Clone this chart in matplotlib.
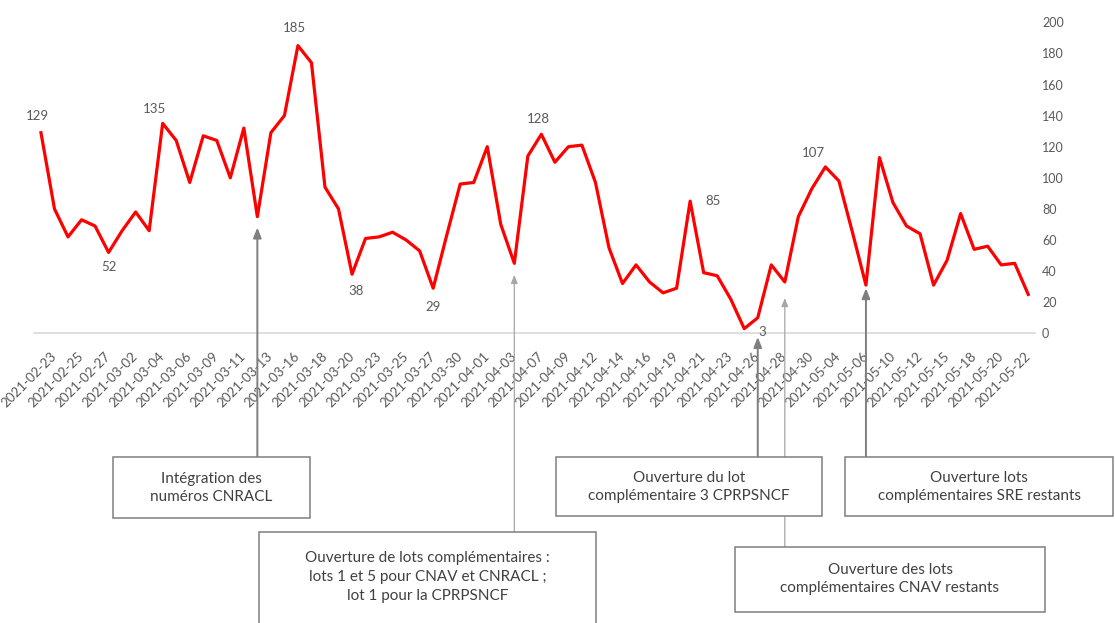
import matplotlib.pyplot as plt
from matplotlib.patches import Rectangle

plt.rcParams['font.family'] = ['Lato', 'DejaVu Sans']

# daily counts, working days from 2021-02-22 to 2021-05-22
values = [129, 80, 62, 73, 69, 52, 66, 78, 66, 135,
          124, 97, 127, 124, 100, 132, 75, 129, 140, 185,
          174, 94, 80, 38, 61, 62, 65, 60, 53, 29,
          63, 96, 97, 120, 70, 45, 114, 128, 110, 120,
          121, 97, 55, 32, 44, 33, 26, 29, 85, 39,
          37, 22, 3, 10, 44, 33, 75, 93, 107, 98,
          65, 31, 113, 84, 69, 64, 31, 47, 77, 54,
          56, 44, 45, 25]

tick_dates = ['2021-02-23', '2021-02-25', '2021-02-27', '2021-03-02', '2021-03-04',
              '2021-03-06', '2021-03-09', '2021-03-11', '2021-03-13', '2021-03-16',
              '2021-03-18', '2021-03-20', '2021-03-23', '2021-03-25', '2021-03-27',
              '2021-03-30', '2021-04-01', '2021-04-03', '2021-04-07', '2021-04-09',
              '2021-04-12', '2021-04-14', '2021-04-16', '2021-04-19', '2021-04-21',
              '2021-04-23', '2021-04-26', '2021-04-28', '2021-04-30', '2021-05-04',
              '2021-05-06', '2021-05-10', '2021-05-12', '2021-05-15', '2021-05-18',
              '2021-05-20', '2021-05-22']

# points that carry a value label
label_idx = [0, 5, 9, 19, 23, 29, 37, 48, 52, 58]

# events and their annotation texts
event_idx = [16, 35, 53, 55, 61]
event_text = ["Intégration des\nnuméros CNRACL",
              "Ouverture de lots complémentaires :\nlots 1 et 5 pour CNAV et CNRACL ;\nlot 1 pour la CPRPSNCF",
              "Ouverture du lot\ncomplémentaire 3 CPRPSNCF",
              "Ouverture des lots\ncomplémentaires CNAV restants",
              "Ouverture lots\ncomplémentaires SRE restants"]

# layout (pixels)
W, H = 1115, 623
label_off = [(-4, 17), (0, -15), (-8, 14), (-4, 18), (4, -17),
             (0, -19), (-3, 15), (23, 0), (18, -3), (-12, 14)]
boxes = [(113, 457, 310, 518, 488),
         (259, 532, 596, 640, 577),
         (556, 457, 822, 516, 487),
         (735, 547, 1045, 612, 579),
         (845, 457, 1113, 516, 487)]
arrow_gap = [7, 7.4, 12.4, 10.3, 2]
arrow_dark = [True, False, True, False, True]

TXT = '#595959'

fig = plt.figure(figsize=(W / 100, H / 100), dpi=100)
ax = fig.add_axes([34.2 / W, 1 - 333.3 / H, (1035 - 34.2) / W, (333.3 - 22.3) / H])

x = list(range(len(values)))
ax.plot(x, values, color='#ff0000', lw=2.3, zorder=3)

ax.set_xlim(-0.5, len(values) - 0.5)
ax.set_ylim(0, 200)
ax.set_yticks(range(0, 201, 20))
ax.yaxis.tick_right()
ax.tick_params(axis='y', length=0, pad=5, labelsize=9, labelcolor=TXT)

ax.set_xticks(list(range(1, len(values), 2)))
ax.set_xticklabels(tick_dates, rotation=45, ha='right', va='center',
                   rotation_mode='anchor')
ax.tick_params(axis='x', length=0, pad=15, labelsize=9.6, labelcolor=TXT)

for s in ['top', 'left', 'right']:
    ax.spines[s].set_visible(False)
ax.spines['bottom'].set_color('#d9d9d9')
ax.spines['bottom'].set_linewidth(1.2)

for i, (dx, dy) in zip(label_idx, label_off):
    ax.annotate(str(values[i]), (i, values[i]), xytext=(dx, dy),
                textcoords='offset pixels', ha='center', va='center',
                fontsize=9.5, color=TXT)

for k, i in enumerate(event_idx):
    x0, y0, x1, y1, ty = boxes[k]
    if arrow_dark[k]:
        props = dict(arrowstyle='-|>,head_length=0.55,head_width=0.22',
                     color='#7f7f7f', lw=1.4, mutation_scale=11)
    else:
        props = dict(arrowstyle='-|>,head_length=0.55,head_width=0.22',
                     color='#a6a6a6', lw=0.9, mutation_scale=9)
    props.update(shrinkA=0, shrinkB=0)
    ax.annotate('', xy=(i, values[i] - arrow_gap[k]), xytext=(i, 1 - y0 / H),
                xycoords='data', textcoords=('data', 'figure fraction'),
                arrowprops=props, annotation_clip=False)

    fig.patches.append(Rectangle((x0 / W, 1 - y1 / H), (x1 - x0) / W, (y1 - y0) / H,
                                 transform=fig.transFigure, facecolor='white',
                                 edgecolor='#7f7f7f', lw=1.1, zorder=2))
    fig.text((x0 + x1) / 2 / W, 1 - ty / H, event_text[k], ha='center', va='center',
             fontsize=11, color='#404040', linespacing=1.45, zorder=3)

fig.savefig('out.png', dpi=100, facecolor='white')
